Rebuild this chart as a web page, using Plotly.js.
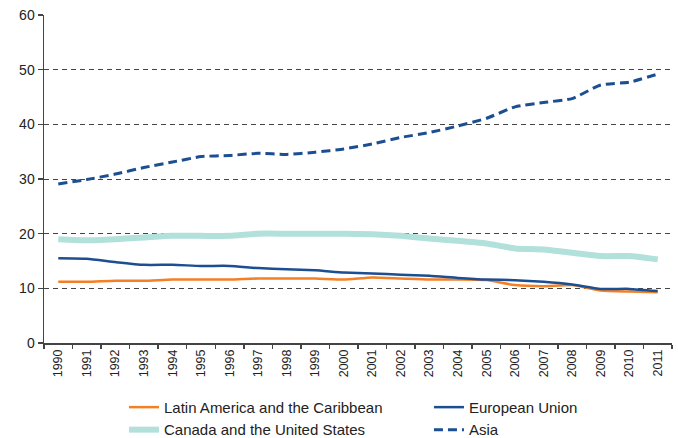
<!DOCTYPE html>
<html><head><meta charset="utf-8">
<script src="https://cdn.plot.ly/plotly-3.0.1.min.js"></script>
<style>body{margin:0;background:#fff}#c{width:678px;height:438px}</style>
</head><body><div id="c"></div>
<script>
const years = ["1990","1991","1992","1993","1994","1995","1996","1997","1998","1999","2000","2001","2002","2003","2004","2005","2006","2007","2008","2009","2010","2011"];
const latinAmerica = [11.2,11.2,11.4,11.4,11.6,11.6,11.6,11.8,11.8,11.8,11.6,12.0,11.8,11.6,11.6,11.5,10.6,10.4,10.6,9.6,9.4,9.3];
const europeanUnion = [15.5,15.4,14.8,14.3,14.3,14.1,14.1,13.7,13.5,13.3,12.9,12.7,12.5,12.3,11.9,11.6,11.5,11.2,10.7,9.9,9.9,9.5];
const canadaUS = [19.0,18.8,19.0,19.3,19.6,19.6,19.6,20.0,20.0,20.0,20.0,19.9,19.6,19.1,18.7,18.2,17.3,17.1,16.5,15.9,15.9,15.3];
const asia = [29.1,29.9,30.9,32.1,33.1,34.1,34.3,34.7,34.5,34.9,35.5,36.4,37.6,38.5,39.7,41.1,43.2,44.0,44.7,47.2,47.7,49.2];
const yTicks = [0,10,20,30,40,50,60];

const font = "Liberation Sans, Arial, sans-serif";
const traces = [
  {x: years, y: latinAmerica, name: "Latin America and the Caribbean", mode: "lines", legend: "legend",
   line: {color: "#F47F24", width: 2.5, shape: "spline", smoothing: 0.5}},
  {x: years, y: europeanUnion, name: "European Union", mode: "lines", legend: "legend2",
   line: {color: "#1C4E92", width: 2.5, shape: "spline", smoothing: 0.5}},
  {x: years, y: canadaUS, name: "Canada and the United States", mode: "lines", legend: "legend",
   line: {color: "#B2E0DA", width: 6, shape: "spline", smoothing: 0.5}},
  {x: years, y: asia, name: "Asia", mode: "lines", legend: "legend2",
   line: {color: "#1C4E92", width: 3, dash: "9px,5px", shape: "spline", smoothing: 0.5}}
];
const legBase = {xanchor: "left", yanchor: "top", y: -0.146,
  bgcolor: "rgba(0,0,0,0)", borderwidth: 0, tracegroupgap: 0, itemwidth: 30,
  font: {family: font, size: 15, color: "#222"}, traceorder: "normal"};
const layout = {
  width: 678, height: 438,
  margin: {l: 44, r: 6, t: 15, b: 95, autoexpand: false},
  paper_bgcolor: "#fff", plot_bgcolor: "#fff",
  font: {family: font, size: 13, color: "#222"},
  showlegend: true,
  legend: Object.assign({}, legBase, {x: 0.1274}),
  legend2: Object.assign({}, legBase, {x: 0.613}),
  xaxis: {type: "category", tickson: "boundaries", ticks: "outside", ticklen: 4,
          tickcolor: "#444", tickwidth: 1.5, showline: true, linecolor: "#444", linewidth: 1.5,
          tickangle: -90, tickfont: {size: 12.5, color: "#222"}, showgrid: false,
          range: [-0.5, 21.5], fixedrange: true},
  yaxis: {range: [0, 60], tickvals: yTicks, ticks: "outside", ticklen: 5, tickcolor: "#444", tickwidth: 1.5,
          showline: true, linecolor: "#444", linewidth: 1.5, showgrid: true, gridcolor: "#444",
          griddash: "5px,4px", gridwidth: 1, zeroline: false, tickfont: {size: 14, color: "#222"}}
};
Plotly.newPlot("c", traces, layout, {staticPlot: true});
</script></body></html>
